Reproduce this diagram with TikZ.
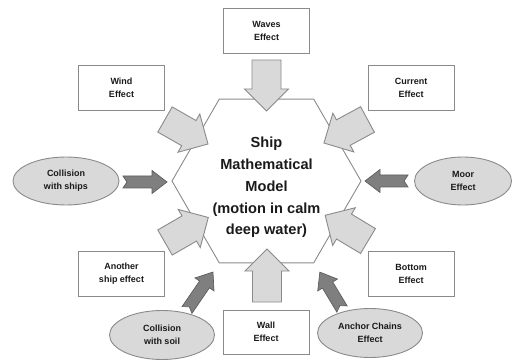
\documentclass[tikz,border=0pt]{standalone}
\usepackage{fontspec}
\setmainfont{Liberation Sans}
\usetikzlibrary{shapes.geometric}
\definecolor{edgegray}{HTML}{8A8A8A}
\definecolor{lightfill}{HTML}{D9D9D9}
\definecolor{darkfill}{HTML}{7F7F7F}
\definecolor{darkedge}{HTML}{5E5E5E}
\definecolor{txt}{HTML}{1A1A1A}
\newcommand\fatarrowL[3]{%
  \draw[lightarr, shift={#1}, rotate=#2] (0,-14.5) -- ({#3-22},-14.5) -- ({#3-22},-22) -- (#3,0) -- ({#3-22},22) -- ({#3-22},14.5) -- (0,14.5) -- cycle;}
\newcommand\fatarrowD[3]{%
  \draw[darkarr, shift={#1}, rotate=#2] (0,-6) -- ({#3-15},-6) -- ({#3-15},-11.5) -- (#3,0) -- ({#3-15},11.5) -- ({#3-15},6) -- (0,6) -- (4,0) -- cycle;}
\begin{document}
\begin{tikzpicture}[x=1pt,y=-1pt,
  effbox/.style={draw=edgegray, line width=0.9pt, fill=white, minimum width=86pt, minimum height=45pt, align=center, inner sep=0pt, font=\bfseries\fontsize{9}{13}\selectfont, text=txt},
  effoval/.style={ellipse, draw=edgegray, line width=0.9pt, fill=lightfill, minimum width=105pt, minimum height=49pt, align=center, inner sep=0pt, font=\bfseries\fontsize{9}{13}\selectfont, text=txt},
  lightarr/.style={draw=edgegray, line width=0.9pt, fill=lightfill, line join=miter},
  darkarr/.style={draw=darkedge, line width=0.7pt, fill=darkfill, line join=miter}]
\useasboundingbox (0,0) rectangle (513,363);
% hexagon
\node[regular polygon, regular polygon sides=6, minimum size=189pt, inner sep=0pt, draw=edgegray, line width=0.9pt] (hex) at (266.5,181) {};
\node[font=\bfseries\fontsize{14.6}{21.8}\selectfont, align=center, text=txt] (model) at (266.5,187.5) {Ship\\Mathematical\\Model\\(motion in calm\\deep water)};
% boxes
\node[effbox] (waves) at (266.5,30.5) {Waves\\Effect};
\node[effbox] (wind) at (121.5,87.5) {Wind\\Effect};
\node[effbox] (current) at (411,87.5) {Current\\Effect};
\node[effbox] (another) at (121.5,273.5) {Another\\ship effect};
\node[effbox] (bottom) at (411,273.5) {Bottom\\Effect};
\node[effbox, minimum height=44pt] (wall) at (266,332) {Wall\\Effect};
% ellipses
\node[effoval, minimum width=106pt, minimum height=48pt] (ships) at (66,181) {Collision\\with ships};
\node[effoval, minimum width=97pt, minimum height=48pt] (moor) at (463,181) {Moor\\Effect};
\node[effoval] (soil) at (162,335) {Collision\\with soil};
\node[effoval] (anchor) at (370,333) {Anchor Chains\\Effect};
% light arrows
\fatarrowL{(266.5,60)}{-90}{51}
\fatarrowL{(267,302)}{90}{53}
\fatarrowL{(165,119.5)}{-29.7}{49.5}
\fatarrowL{(367.5,119.5)}{208.4}{49.5}
\fatarrowL{(165,242.5)}{30}{50}
\fatarrowL{(368,241)}{149}{50}
% dark arrows
\fatarrowD{(123,182)}{0}{44}
\fatarrowD{(408,181)}{180}{43}
\fatarrowD{(187,310)}{55.6}{46}
\fatarrowD{(342,309)}{121}{43}
\end{tikzpicture}
\end{document}
